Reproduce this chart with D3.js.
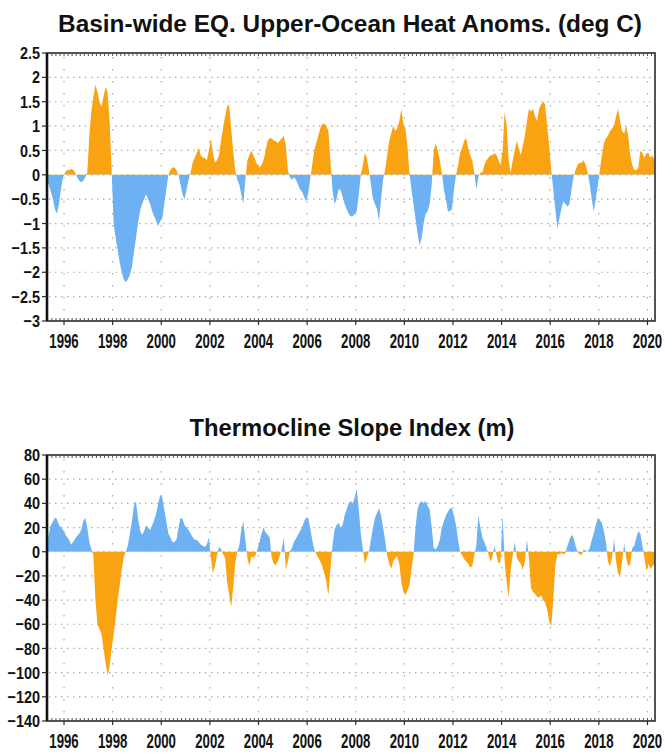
<!DOCTYPE html>
<html>
<head>
<meta charset="utf-8">
<script src="https://cdn.jsdelivr.net/npm/d3@7"></script>
<style>
  body { margin: 0; background: #fff; }
  #chart { width: 665px; height: 756px; }
  text { font-family: "Liberation Sans", Arial, sans-serif; fill: #111; }
</style>
</head>
<body>
<div id="chart"></div>
<script>
/*global d3*/

// monthly values, first one is Apr 1995, last one Apr 2020
const startYear = 1995
const startMonth = 4

const heatAnoms = [
  -0.1, -0.2, -0.35, -0.5, -0.7, -0.8, -0.6, -0.3, -0.05,                 // 1995
  0.05, 0.1, 0.1, 0.12, 0.1, 0.05, -0.05, -0.12, -0.15, -0.12, -0.05, 0.05, // 1996
  0.8, 1.3, 1.6, 1.85, 1.7, 1.5, 1.4, 1.6, 1.8, 1.7, 1.1, 0.1,             // 1997
  -1.0, -1.3, -1.55, -1.8, -2.0, -2.15, -2.2, -2.15, -2.05, -1.9, -1.6, -1.3, // 1998
  -1.0, -0.75, -0.6, -0.5, -0.4, -0.5, -0.6, -0.75, -0.85, -0.95, -1.05, -0.95, // 1999
  -0.9, -0.6, -0.3, 0.0, 0.1, 0.15, 0.15, 0.1, 0.0, -0.2, -0.4, -0.5,      // 2000
  -0.3, -0.1, 0.05, 0.25, 0.35, 0.45, 0.55, 0.4, 0.35, 0.35, 0.3, 0.5,     // 2001
  0.75, 0.45, 0.25, 0.3, 0.4, 0.7, 0.95, 1.2, 1.4, 1.45, 0.95, 0.5,        // 2002
  0.1, -0.1, -0.2, -0.4, -0.6, -0.1, 0.3, 0.4, 0.5, 0.4, 0.3, 0.2,         // 2003
  0.15, 0.2, 0.3, 0.5, 0.7, 0.75, 0.75, 0.7, 0.7, 0.65, 0.7, 0.75,         // 2004
  0.8, 0.6, 0.1, -0.05, -0.1, -0.05, -0.1, -0.2, -0.3, -0.35, -0.45, -0.55, // 2005
  -0.4, -0.1, 0.2, 0.5, 0.65, 0.8, 0.95, 1.05, 1.05, 1.0, 0.9, 0.3,        // 2006
  -0.3, -0.6, -0.5, -0.3, -0.3, -0.45, -0.6, -0.7, -0.8, -0.85, -0.85, -0.8, // 2007
  -0.75, -0.4, 0.0, 0.2, 0.45, 0.35, 0.1, -0.2, -0.5, -0.6, -0.7, -0.95,   // 2008
  -0.5, -0.1, 0.1, 0.4, 0.7, 0.85, 1.0, 0.9, 0.95, 1.1, 1.35, 1.05,        // 2009
  0.95, 0.6, 0.05, -0.3, -0.6, -0.9, -1.2, -1.45, -1.3, -1.0, -0.8, -0.75, // 2010
  -0.6, -0.2, 0.5, 0.65, 0.5, 0.3, 0.05, -0.3, -0.5, -0.75, -0.75, -0.7,   // 2011
  -0.3, 0.0, 0.2, 0.45, 0.55, 0.7, 0.75, 0.55, 0.4, 0.3, 0.05, -0.3,       // 2012
  -0.05, 0.05, 0.05, 0.2, 0.3, 0.35, 0.4, 0.4, 0.45, 0.4, 0.3, 0.2,        // 2013
  0.5, 1.3, 1.0, 0.3, 0.05, 0.3, 0.5, 0.7, 0.55, 0.4, 0.6, 0.8,            // 2014
  1.1, 1.35, 1.3, 1.35, 1.2, 1.1, 1.35, 1.45, 1.5, 1.45, 1.0, 0.6,         // 2015
  0.1, -0.3, -0.7, -1.1, -0.9, -0.7, -0.55, -0.6, -0.65, -0.6, -0.3, -0.05, // 2016
  0.1, 0.2, 0.25, 0.25, 0.3, 0.2, 0.05, -0.2, -0.5, -0.75, -0.5, -0.2,     // 2017
  0.1, 0.4, 0.65, 0.75, 0.8, 0.9, 0.95, 1.0, 1.2, 1.35, 1.1, 0.9,          // 2018
  0.85, 1.0, 0.8, 0.4, 0.2, 0.1, 0.1, 0.15, 0.5, 0.45, 0.35, 0.45,         // 2019
  0.45, 0.35, 0.4, 0.3                                                     // 2020
]

const slopeIndex = [
  5, 15, 22, 25, 28, 27, 22, 20, 18,                  // 1995
  15, 12, 10, 6, 8, 11, 13, 15, 18, 25, 28, 20,       // 1996
  8, 2, -3, -40, -60, -64, -68, -80, -92, -102, -95, -80, // 1997
  -68, -55, -40, -28, -15, -4, 0, 5, 15, 25, 38, 42,  // 1998
  28, 18, 14, 17, 22, 20, 18, 22, 26, 32, 40, 47,     // 1999
  45, 35, 25, 15, 12, 8, 8, 10, 20, 28, 27, 22,       // 2000
  20, 18, 15, 12, 10, 10, 8, 6, 5, 4, 6, 12,          // 2001
  -5, -18, -12, -3, 4, 2, -2, -5, -25, -35, -46, -30, // 2002
  -10, 0, 5, 18, 25, 10, -5, -12, -4, -5, -3, 2,      // 2003
  8, 15, 20, 16, 14, 12, -5, -10, -11, -8, -3, 2,     // 2004
  12, -15, -8, 0, 3, 8, 11, 14, 17, 20, 25, 28,       // 2005
  28, 20, 10, 2, -2, -5, -8, -12, -18, -25, -36, -15, // 2006
  5, 18, 22, 24, 20, 22, 30, 35, 40, 42, 40, 45,      // 2007
  52, 35, 15, 2, -10, -5, 0, 10, 20, 28, 32, 36,      // 2008
  30, 20, 10, -3, -10, -14, -8, -5, -4, -10, -25, -33, // 2009
  -36, -32, -28, -15, -3, 20, 35, 40, 42, 40, 42, 38, // 2010
  35, 20, 3, 2, 5, 10, 20, 25, 30, 33, 36, 36,        // 2011
  30, 22, 10, 0, -3, -6, -8, -10, -13, -12, -3, 5,    // 2012
  30, 20, 12, 8, 3, -2, -8, -4, 5, -3, -10, -8,       // 2013
  30, -8, -25, -38, -15, -3, 8, -5, -8, -10, -15, -8, // 2014
  10, -5, -30, -33, -35, -37, -38, -36, -40, -42, -48, -58, // 2015
  -62, -40, -12, -2, -2, -1, -2, -1, 5, 10, 14, 12,   // 2016
  5, 0, -2, -3, 2, 1, 0, 3, 10, 15, 22, 28,           // 2017
  26, 24, 17, 8, -8, -12, -5, 11, -8, -18, -20, -8,   // 2018
  7, -5, -12, -10, 3, 5, 12, 17, 15, 5, -5, -16,      // 2019
  -10, -14, -12, -10                                  // 2020
]

const yearTicks = [1996, 1998, 2000, 2002, 2004, 2006, 2008, 2010, 2012, 2014, 2016, 2018, 2020]
const heatTicks = [-3, -2.5, -2, -1.5, -1, -0.5, 0, 0.5, 1, 1.5, 2, 2.5]
const slopeTicks = [-140, -120, -100, -80, -60, -40, -20, 0, 20, 40, 60, 80]

const ORANGE = '#f9a313'
const BLUE = '#6db1f2'


class AnomPanel {
    constructor(svg, opts) {
        this.svg = svg
        this.o = opts
        this.init()
    }

    init() {
        this.handleData()
        this.initScale()
        this.drawGrid()
        this.drawArea()
        this.drawFrame()
        this.drawLabels()
    }

    handleData() {
        // mid-month decimal year
        this.data = this.o.values.map((v, i) => ({
            t: startYear + (startMonth - 1 + i) / 12 + 1 / 24,
            v: v
        }))
    }

    initScale() {
        this.x = d3.scaleLinear().domain([1995.30, 2020.31]).range([47, 655])
        this.y = d3.scaleLinear().domain(d3.extent(this.o.ticks)).range([this.o.bottom, this.o.top])
    }

    drawGrid() {
        const g = this.svg.append('g')
        const inner = this.o.ticks.slice(1, -1)
        g.selectAll('.hgrid')
            .data(inner)
            .join('line')
            .attr('x1', 49).attr('x2', 653)
            .attr('y1', d => this.y(d)).attr('y2', d => this.y(d))
            .attr('stroke', '#aaa')
            .attr('stroke-width', 1.2)
            .attr('stroke-dasharray', '1.5,4.5')
        g.selectAll('.vgrid')
            .data(yearTicks)
            .join('line')
            .attr('x1', d => this.x(d)).attr('x2', d => this.x(d))
            .attr('y1', this.o.top + 4).attr('y2', this.o.bottom - 2)
            .attr('stroke', '#aaa')
            .attr('stroke-width', 1.2)
            .attr('stroke-dasharray', '1.5,10.5')
    }

    drawArea() {
        const y0 = this.y(0)
        const id = this.o.id
        const defs = this.svg.append('defs')
        defs.append('clipPath').attr('id', `${id}-up`)
            .append('rect')
            .attr('x', 47).attr('width', 608)
            .attr('y', this.o.top).attr('height', y0 - this.o.top)
        defs.append('clipPath').attr('id', `${id}-dn`)
            .append('rect')
            .attr('x', 47).attr('width', 608)
            .attr('y', y0).attr('height', this.o.bottom - y0)

        const area = d3.area()
            .x(d => this.x(d.t))
            .y0(y0)
            .y1(d => this.y(d.v))

        this.svg.append('path')
            .datum(this.data)
            .attr('clip-path', `url(#${id}-up)`)
            .attr('fill', this.o.posColor)
            .attr('d', area)
        this.svg.append('path')
            .datum(this.data)
            .attr('clip-path', `url(#${id}-dn)`)
            .attr('fill', this.o.negColor)
            .attr('d', area)
    }

    drawFrame() {
        const g = this.svg.append('g')
        const { top, bottom } = this.o
        g.append('rect')
            .attr('x', 47).attr('y', top)
            .attr('width', 608).attr('height', bottom - top)
            .attr('fill', 'none')
            .attr('stroke', '#2a2a2a')
            .attr('stroke-width', 1.6)
        g.append('line')
            .attr('x1', 47).attr('x2', 47)
            .attr('y1', top).attr('y2', bottom)
            .attr('stroke', '#111').attr('stroke-width', 2.6)

        // little ticks along top and bottom edges
        const minor = d3.range(1995.5, 2020.3, 1 / 6)
        g.selectAll('.mt')
            .data(minor)
            .join('line')
            .attr('x1', d => this.x(d)).attr('x2', d => this.x(d))
            .attr('y1', top).attr('y2', top + 3)
            .attr('stroke', '#444').attr('stroke-width', 0.9)
        g.selectAll('.mb')
            .data(minor)
            .join('line')
            .attr('x1', d => this.x(d)).attr('x2', d => this.x(d))
            .attr('y1', bottom).attr('y2', bottom - 3)
            .attr('stroke', '#444').attr('stroke-width', 0.9)

        // outward ticks
        g.selectAll('.yt')
            .data(this.o.ticks)
            .join('line')
            .attr('x1', 42).attr('x2', 47)
            .attr('y1', d => this.y(d)).attr('y2', d => this.y(d))
            .attr('stroke', '#2a2a2a').attr('stroke-width', 1.2)
        g.selectAll('.xt')
            .data(yearTicks)
            .join('line')
            .attr('x1', d => this.x(d)).attr('x2', d => this.x(d))
            .attr('y1', bottom).attr('y2', bottom + 4)
            .attr('stroke', '#2a2a2a').attr('stroke-width', 1.2)
    }

    drawLabels() {
        const g = this.svg.append('g')
        g.selectAll('.yl')
            .data(this.o.ticks)
            .join('text')
            .attr('transform', d => `translate(40,${this.y(d)}) scale(0.85,1)`)
            .attr('dy', '0.36em')
            .attr('text-anchor', 'end')
            .attr('font-size', 17)
            .attr('font-weight', 'bold')
            .text(d => String(d).replace('-', '\u2212'))

        g.selectAll('.xl')
            .data(yearTicks)
            .join('text')
            .attr('transform', d => `translate(${this.x(d)},${this.o.bottom + 27}) scale(0.66,1)`)
            .attr('text-anchor', 'middle')
            .attr('font-size', 20)
            .attr('font-weight', 'bold')
            .text(d => d)

        g.append('text')
            .attr('x', this.o.titleX)
            .attr('y', this.o.titleY)
            .attr('text-anchor', 'middle')
            .attr('font-size', 23)
            .attr('font-weight', 'bold')
            .attr('textLength', this.o.titleLen)
            .attr('lengthAdjust', 'spacingAndGlyphs')
            .text(this.o.title)
    }
}


function charts() {
    const div = d3.select('#chart')
    div.selectAll('*').remove()
    const svg = div.append('svg').attr('width', 665).attr('height', 756)

    new AnomPanel(svg, {
        id: 'heat',
        values: heatAnoms,
        ticks: heatTicks,
        top: 53, bottom: 321,
        posColor: ORANGE, negColor: BLUE,
        title: 'Basin-wide EQ. Upper-Ocean Heat Anoms. (deg C)',
        titleX: 350, titleY: 32, titleLen: 584
    })

    new AnomPanel(svg, {
        id: 'slope',
        values: slopeIndex,
        ticks: slopeTicks,
        top: 455, bottom: 721,
        posColor: BLUE, negColor: ORANGE,
        title: 'Thermocline Slope Index (m)',
        titleX: 352, titleY: 436, titleLen: 325
    })
}

charts()
</script>
</body>
</html>
